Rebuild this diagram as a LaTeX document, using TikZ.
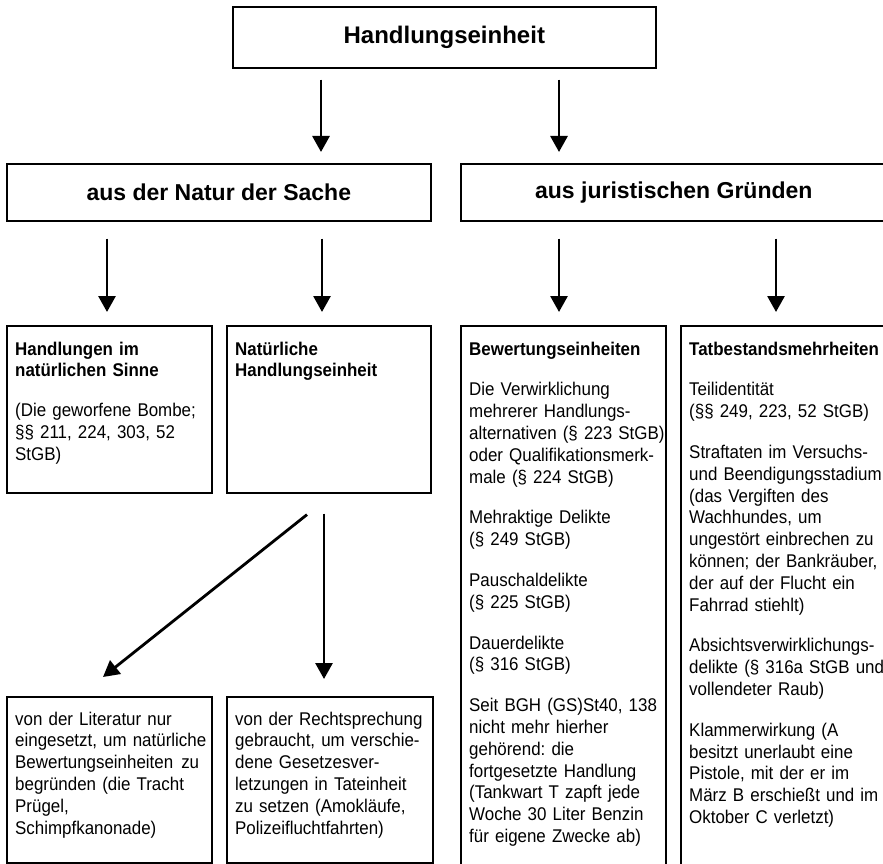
\documentclass[tikz,border=0pt]{standalone}
\usepackage{fontspec}
\setmainfont{Liberation Sans}
\newfontfamily\bodyfont[FakeStretch=0.92]{Liberation Sans}
\usetikzlibrary{arrows.meta}
\frenchspacing
\begin{document}
\begin{tikzpicture}[x=1pt,y=-1pt,
  frame/.style={draw, line width=1.6pt, inner sep=0pt, anchor=north west},
  headbox/.style={frame, font=\bfseries\fontsize{23}{27}\selectfont},
  txt/.style={anchor=base west, inner sep=0pt, align=left, text width=240pt, font=\bodyfont\frenchspacing\fontsize{18.4}{21.8}\selectfont},
  arr/.style={line width=2.8pt, -{Triangle[length=16pt,width=17pt]}}]
\useasboundingbox (0,0) rectangle (883,864);
\fill[white] (0,0) rectangle (883,864);

% level 1
\node[frame, minimum width=423pt, minimum height=61pt, font=\bfseries\fontsize{24}{28}\selectfont] (top) at (232,6) {Handlungseinheit};

% level 2
\node[headbox, minimum width=424pt, minimum height=57pt] (l2a) at (6,163) {aus der Natur der Sache};
\node[headbox, minimum width=426pt, minimum height=57pt] (l2b) at (460,163) {aus juristischen Gründen};

% level 3 frames
\node[frame, minimum width=205pt, minimum height=167pt] (b1) at (6,325) {};
\node[frame, minimum width=204pt, minimum height=167pt] (b2) at (226,325) {};
\node[frame, minimum width=205pt, minimum height=561pt] (b3) at (460,325) {};
\node[frame, minimum width=206pt, minimum height=561pt] (b4) at (680,325) {};
% level 4 frames
\node[frame, minimum width=205pt, minimum height=166pt] (b5) at (6,696) {};
\node[frame, minimum width=206pt, minimum height=166pt] (b6) at (226,696) {};

% texts
\node[txt] (t1) at (15,355) {\textbf{Handlungen im}\\\textbf{natürlichen Sinne}\\[18pt]
(Die geworfene Bombe;\\§§ 211, 224, 303, 52\\StGB)};
\node[txt] (t2) at (235,355) {\textbf{Natürliche}\\\textbf{Handlungseinheit}};
\node[txt] (t3) at (469,355) {\textbf{Bewertungseinheiten}\\[19pt]
Die Verwirklichung\\mehrerer Handlungs-\\alternativen (§ 223 StGB)\\oder Qualifikationsmerk-\\male (§ 224 StGB)\\[19pt]
Mehraktige Delikte\\(§ 249 StGB)\\[19pt]
Pauschaldelikte\\(§ 225 StGB)\\[19pt]
Dauerdelikte\\(§ 316 StGB)\\[19pt]
Seit BGH (GS)St40, 138\\nicht mehr hierher\\gehörend: die\\fortgesetzte Handlung\\(Tankwart T zapft jede\\Woche 30 Liter Benzin\\für eigene Zwecke ab)};
\node[txt] (t4) at (689,355) {\textbf{Tatbestandsmehrheiten}\\[19pt]
Teilidentität\\(§§ 249, 223, 52 StGB)\\[19pt]
Straftaten im Versuchs-\\und Beendigungsstadium\\(das Vergiften des\\Wachhundes, um\\ungestört einbrechen zu\\können; der Bankräuber,\\der auf der Flucht ein\\Fahrrad stiehlt)\\[19pt]
Absichtsverwirklichungs-\\delikte (§ 316a StGB und\\vollendeter Raub)\\[19pt]
Klammerwirkung (A\\besitzt unerlaubt eine\\Pistole, mit der er im\\März B erschießt und im\\Oktober C verletzt)};
\node[txt] (t5) at (15,725) {von der Literatur nur\\eingesetzt, um natürliche\\\makebox[184pt][l]{Bewertungseinheiten\hfill zu}\\begründen (die Tracht\\Prügel,\\Schimpfkanonade)};
\node[txt] (t6) at (235,725) {von der Rechtsprechung\\gebraucht, um verschie-\\dene Gesetzesver-\\letzungen in Tateinheit\\zu setzen (Amokläufe,\\Polizeifluchtfahrten)};

% arrows
\draw[arr] ([shift={(89,11)}]top.south west) -- ([shift={(315,-11)}]l2a.north west);
\draw[arr] ([shift={(327,11)}]top.south west) -- ([shift={(99,-11)}]l2b.north west);
\draw[arr] ([shift={(101,17)}]l2a.south west) -- ([shift={(101,-13)}]b1.north west);
\draw[arr] ([shift={(316,17)}]l2a.south west) -- ([shift={(96,-13)}]b2.north west);
\draw[arr] ([shift={(99,17)}]l2b.south west) -- ([shift={(99,-13)}]b3.north west);
\draw[arr] ([shift={(316,17)}]l2b.south west) -- ([shift={(96,-13)}]b4.north west);
\draw[arr] ([shift={(81,21)}]b2.south west) -- ([shift={(97,-19)}]b5.north west);
\draw[arr] ([shift={(98,20)}]b2.south west) -- ([shift={(98,-17)}]b6.north west);
\end{tikzpicture}
\end{document}
